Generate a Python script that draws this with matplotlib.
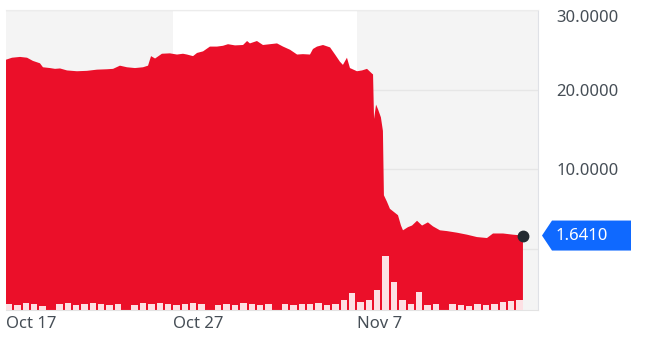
import matplotlib
matplotlib.use("Agg")
import matplotlib.pyplot as plt
import matplotlib.dates as mdates
from matplotlib.patches import Polygon
from matplotlib.transforms import IdentityTransform
import pandas as pd

plt.rcParams['font.family'] = ['Noto Sans', 'DejaVu Sans']

# Datos (dias desde el 17 oct 2022, precio en USD)
inicio = pd.Timestamp("2022-10-17")
dias = [0, 0.36, 0.84, 1.26, 1.61, 2.03, 2.21, 2.63, 2.93, 3.23,
        3.65, 4.24, 4.84, 5.44, 6.04, 6.40, 6.81, 7.23, 7.71, 8.19,
        8.49, 8.67, 8.91, 9.32, 9.80, 10.22, 10.58, 10.82, 11.18, 11.42,
        11.78, 12.19, 12.61, 12.97, 13.27, 13.69, 14.17, 14.41, 14.58, 15.00,
        15.36, 15.78, 16.20, 16.56, 16.98, 17.40, 17.75, 18.17, 18.35, 18.59,
        18.95, 19.37, 19.67, 19.96, 20.14, 20.38, 20.56, 20.98, 21.28, 21.58,
        21.88, 21.94, 22.00, 22.12, 22.24, 22.41, 22.53, 22.59, 22.77, 22.95,
        23.19, 23.43, 23.61, 23.73, 24.03, 24.27, 24.57, 24.87, 25.22, 25.52,
        25.94, 26.36, 26.96, 27.56, 28.15, 28.75, 29.11, 29.71, 30.31, 30.90]
precios = [23.75, 24.0, 24.1, 24.0, 23.6, 23.3, 22.8, 22.7, 22.6, 22.65,
           22.4, 22.3, 22.35, 22.5, 22.55, 22.6, 23.0, 22.8, 22.7, 22.8,
           23.0, 24.2, 23.9, 24.5, 24.55, 24.4, 24.5, 24.4, 24.2, 24.6,
           24.8, 25.4, 25.4, 25.5, 25.7, 25.55, 25.6, 26.1, 25.8, 26.1,
           25.6, 25.7, 25.8, 25.4, 25.0, 24.4, 24.45, 24.4, 25.1, 25.4,
           25.6, 25.3, 24.4, 23.5, 23.1, 24.0, 22.7, 22.3, 22.4, 22.6,
           22.0, 21.9, 16.3, 18.1, 17.5, 16.5, 14.8, 6.7, 5.9, 5.0,
           4.6, 4.2, 2.9, 2.3, 2.7, 2.9, 3.5, 2.9, 3.3, 2.8,
           2.3, 2.2, 2.0, 1.75, 1.45, 1.33, 1.9, 1.9, 1.75, 1.641]

# Volumen cada 12 horas (unidades relativas)
volumen = [6, 5, 7, 6, 4, 0, 6, 7, 5, 6, 7, 6, 5, 6, 0, 5, 7, 6, 7, 6,
           5, 6, 7, 6, 0, 5, 6, 5, 7, 6, 5, 6, 0, 6, 5, 6, 6, 7, 5, 6,
           10, 17, 8, 10, 20, 54, 28, 10, 6, 18, 5, 6, 0, 6, 5, 4, 6, 5,
           6, 8, 9, 10]

marcas_fecha = ["2022-10-17", "2022-10-27", "2022-11-07"]
etiquetas_x = ["Oct 17", "Oct 27", "Nov 7"]
marcas_y = [0, 10, 20, 30]
etiquetas_y = ["", "10.0000", "20.0000", "30.0000"]
ultimo = "1.6410"

fechas = [inicio + pd.Timedelta(days=d) for d in dias]
fechas_vol = pd.date_range(inicio, periods=len(volumen), freq="12h")
fin_eje = inicio + pd.Timedelta(days=31.8)

rojo = '#eb0f29'
gris_banda = '#f4f4f4'
texto = '#464e56'

fig = plt.figure(figsize=(6.54, 3.38), dpi=100)
ax = fig.add_axes([6 / 654, 28 / 338, 532 / 654, 300 / 338])
ax2 = ax.twinx()  # volumen; se crea antes para que no mueva los ticks de ax

# bandas alternas de fondo
ax.axvspan(pd.Timestamp(marcas_fecha[0]), pd.Timestamp(marcas_fecha[1]), color=gris_banda, lw=0, zorder=0)
ax.axvspan(pd.Timestamp(marcas_fecha[2]), fin_eje, color=gris_banda, lw=0, zorder=0)

ax.fill_between(fechas, precios, -20, color=rojo, lw=0, zorder=2)

ax.set_xlim(inicio, fin_eje)
ax.set_ylim(-7.72, 30)

ax.yaxis.tick_right()
ax.set_yticks(marcas_y)
ax.set_yticklabels(etiquetas_y)
ax.tick_params(axis='y', which='both', left=False, right=False, labelleft=False,
               labelright=True, length=0, pad=13, labelsize=12, labelcolor=texto)
ax.yaxis.grid(True, color='#e6e6e6', lw=1, zorder=1)
ax.set_axisbelow(True)
ax.get_yticklabels()[-1].set_verticalalignment('top')

ax.set_xticks([pd.Timestamp(f) for f in marcas_fecha])
ax.set_xticklabels(etiquetas_x)
ax.tick_params(axis='x', length=0, pad=4, labelsize=12, labelcolor=texto)
for lab in ax.get_xticklabels():
    lab.set_horizontalalignment('left')

ax.spines['left'].set_visible(False)
ax.spines['right'].set_color('#dfe1e6')
ax.spines['top'].set_color('#ececec')
ax.spines['bottom'].set_color('#e3e3e3')

# barras de volumen encima del area
ax2.bar(fechas_vol, volumen, width=0.38, color='#fde0e4', lw=0, align='edge')
ax2.set_ylim(0, 300)
ax2.set_xlim(inicio, fin_eje)
ax2.axis('off')

# punto final del precio
ax3 = fig.add_axes(ax.get_position(), sharex=ax, frameon=False)
ax3.set_ylim(ax.get_ylim())
ax3.plot(fechas[-1], precios[-1], 'o', color='#232a31', ms=7.5, clip_on=False)
ax3.axis('off')

# etiqueta azul con el ultimo precio
fig.canvas.draw()
_, y_tip = ax.transData.transform((mdates.date2num(fechas[-1]), precios[-1]))
x_tip = ax.transAxes.transform((1, 0))[0] + 4
verts = [(x_tip, y_tip), (x_tip + 10, y_tip + 15), (x_tip + 89, y_tip + 15),
         (x_tip + 89, y_tip - 15), (x_tip + 10, y_tip - 15)]
fig.add_artist(Polygon(verts, closed=True, color='#0f69ff', lw=0, transform=IdentityTransform()))
fig.text(x_tip + 14, y_tip, ultimo, color='white', fontsize=12, fontweight='bold',
         va='center', ha='left', transform=IdentityTransform())

fig.savefig("out.png", dpi=100)
